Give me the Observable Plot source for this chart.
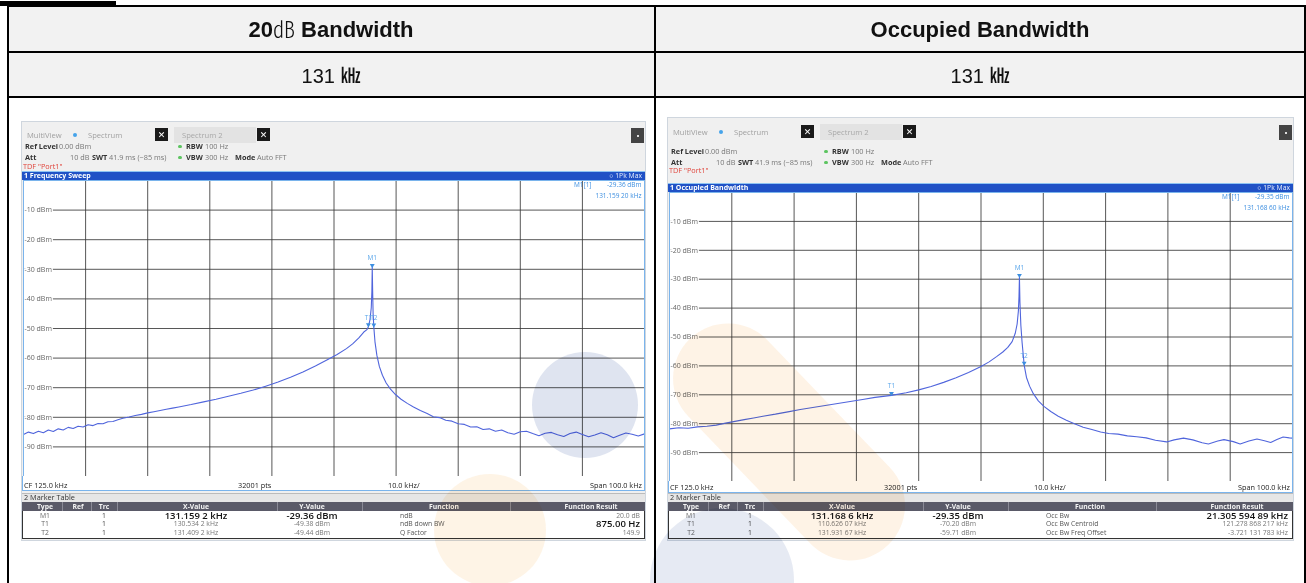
<!DOCTYPE html>
<html><head><meta charset="utf-8">
<script src="https://cdn.jsdelivr.net/npm/d3@7"></script>
<script src="https://cdn.jsdelivr.net/npm/@observablehq/plot@0.6"></script>
<style>
html,body{margin:0;padding:0;background:#fff;}
body{width:1306px;height:583px;overflow:hidden;position:relative;font-family:"Open Sans","Noto Sans",sans-serif;}
.t{position:absolute;white-space:nowrap;}
svg{display:block;}
</style></head><body>
<script>
// ---------------- data ----------------
const headerTitles = ["20", "Occupied Bandwidth"];
const headerValues = ["131 ㎑", "131 ㎑"];
const xTicks = [75, 85, 95, 105, 115, 125, 135, 145, 155, 165, 175];
const yGrid = [0, -10, -20, -30, -40, -50, -60, -70, -80, -90, -100];
const yTicks = [-10, -20, -30, -40, -50, -60, -70, -80, -90];

const leftFreq = [75,75.8,76.6,77.4,78.2,79,79.8,80.6,81.4,82.2,83,83.8,84.6,85.4,86.2,87,87.8,88.6,89.4,90.2,91,92,93,94,95,96,97,98,99,100,102,104,106,108,110,112,114,116,118,120,122,124,125.5,127,128,129,129.8,130.3,130.534,130.8,131.0,131.1,131.159,131.22,131.3,131.409,131.6,131.9,132.3,132.8,133.4,134.1,134.9,135.8,136.8,137.8,138.9,140,141,142,143,144,145,146,147,148,149,150,151,152,153,154,155,156,157,158,159,160,161,162,163,164,165,166,167,168,169,170,171,172,173,174,175];
const leftLevel = [-85.8,-85.0,-85.5,-84.7,-85.2,-84.3,-84.8,-83.9,-84.3,-83.4,-83.8,-83.0,-83.3,-82.5,-82.8,-82.1,-82.2,-81.5,-81.4,-80.8,-80.3,-79.9,-79.4,-79.0,-78.5,-78.1,-77.7,-77.3,-76.9,-76.5,-75.7,-74.8,-73.9,-72.9,-71.9,-70.8,-69.5,-68.1,-66.5,-64.7,-62.7,-60.5,-58.8,-56.8,-55.2,-53.2,-51.2,-50.4,-49.38,-47.0,-43.0,-37.5,-29.36,-37.0,-45.0,-49.44,-54.5,-59.0,-62.8,-65.8,-68.4,-70.5,-72.3,-73.9,-75.3,-76.5,-77.7,-78.7,-79.8,-80.1,-81.0,-81.3,-82.2,-82.4,-83.3,-83.2,-84.1,-83.9,-84.7,-84.3,-85.2,-85.7,-84.9,-84.7,-85.5,-86.2,-85.4,-85.1,-85.9,-86.5,-85.5,-85.0,-85.8,-86.6,-86.0,-85.2,-85.9,-86.9,-86.1,-85.3,-85.7,-86.3,-85.6];

const rightFreq = [75,76.5,78,79.5,81,82.5,84,85.5,87,88.5,90,92,94,96,98,100,102,104,106,108,110.626,113,115,117,119,121,123,125,126.3,127.5,128.5,129.3,130,130.5,130.8,131.0,131.1,131.169,131.25,131.4,131.6,131.931,132.3,132.8,133.4,134.2,135.1,136.2,137.4,138.7,140,141.4,142.8,144.2,145.5,147,148.5,150,151.5,153,154.8,156,157.5,159,160.5,161.5,163,164,165.5,166.6,168,169.3,170.5,171.5,172.5,173.5,174.5,175];
const rightLevel = [-81.8,-81.4,-81.6,-81.1,-80.9,-80.5,-79.8,-79.2,-78.6,-78.0,-77.4,-76.7,-75.9,-75.1,-74.4,-73.7,-73.0,-72.3,-71.6,-70.9,-70.2,-69.3,-68.3,-67.1,-65.7,-64.1,-62.3,-60.2,-58.6,-56.8,-55.2,-53.6,-51.6,-48.7,-45.5,-41.0,-36.0,-29.35,-38.0,-46.0,-52.0,-59.71,-64.0,-67.0,-69.6,-72.1,-74.0,-75.8,-77.4,-78.8,-80.0,-81.2,-82.0,-82.9,-83.4,-83.6,-84.2,-84.5,-84.9,-85.7,-86.3,-85.6,-85.0,-85.6,-86.6,-87.0,-86.0,-85.5,-86.2,-87.0,-86.0,-85.3,-85.9,-86.5,-85.5,-84.6,-84.9,-85.0];

const leftMarkerNames = ["M1", "T1", "T2"];
const leftMarkerFreq = [131.159, 130.534, 131.409];
const leftMarkerLevel = [-29.36, -49.38, -49.44];
const rightMarkerNames = ["M1", "T1", "T2"];
const rightMarkerFreq = [131.169, 110.626, 131.931];
const rightMarkerLevel = [-29.35, -70.20, -59.71];

const leftReadout = ["M1[1]", "-29.36 dBm", "131.159 20 kHz"];
const rightReadout = ["M1[1]", "-29.35 dBm", "131.168 60 kHz"];

const tableColumns = ["Type", "Ref", "Trc", "X-Value", "Y-Value", "Function", "Function Result"];
const markerTypes = ["M1", "T1", "T2"];
const markerTrc = ["1", "1", "1"];
const leftXValues = ["131.159 2 kHz", "130.534 2 kHz", "131.409 2 kHz"];
const leftYValues = ["-29.36 dBm", "-49.38 dBm", "-49.44 dBm"];
const leftFunctions = ["ndB", "ndB down BW", "Q Factor"];
const leftResults = ["20.0 dB", "875.00 Hz", "149.9"];
const rightXValues = ["131.168 6 kHz", "110.626 07 kHz", "131.931 67 kHz"];
const rightYValues = ["-29.35 dBm", "-70.20 dBm", "-59.71 dBm"];
const rightFunctions = ["Occ Bw", "Occ Bw Centroid", "Occ Bw Freq Offset"];
const rightResults = ["21.305 594 89 kHz", "121.278 868 217 kHz", "-3.721 131 783 kHz"];
const leftResultBold = [false, true, false];
const rightResultBold = [true, false, false];

// ---------------- helpers ----------------
const root = document.body;
function box(l, t, w, h, style = {}, parent = root) {
  const d = document.createElement("div");
  d.style.position = "absolute";
  d.style.left = l + "px"; d.style.top = t + "px";
  if (w != null) d.style.width = w + "px";
  if (h != null) d.style.height = h + "px";
  Object.assign(d.style, style);
  parent.appendChild(d);
  return d;
}
function txt(x, y, html, size, style = {}, align = "left") {
  const d = document.createElement("div");
  d.className = "t";
  d.innerHTML = html;
  d.style.left = x + "px";
  d.style.top = (y - size * 0.7) + "px";
  d.style.lineHeight = (size * 1.4) + "px";
  d.style.fontSize = size + "px";
  if (align === "center") d.style.transform = "translateX(-50%)";
  if (align === "right") d.style.transform = "translateX(-100%)";
  Object.assign(d.style, style);
  root.appendChild(d);
  return d;
}

// ---------------- table frame ----------------
box(0, 1, 116, 5, {background: "#000"});
box(9, 7, 645, 44, {background: "#f2f2f2"});
box(656, 7, 648, 44, {background: "#f2f2f2"});
box(9, 53, 645, 43, {background: "#f2f2f2"});
box(656, 53, 648, 43, {background: "#f2f2f2"});
box(7, 5, 1299, 2, {background: "#000"});
box(7, 51, 1299, 2, {background: "#000"});
box(7, 96, 1299, 2, {background: "#000"});
box(7, 5, 2, 578, {background: "#000"});
box(654, 5, 2, 578, {background: "#000"});
box(1304, 5, 2, 578, {background: "#000"});

const hdrFont = {fontFamily: "'Liberation Sans', Arial, sans-serif", color: "#111"};
txt(331, 27, `<b>${headerTitles[0]}</b><span style="font-family:'Noto Sans CJK KR';font-weight:300">㏈</span><b> Bandwidth</b>`, 22, hdrFont, "center");
txt(980, 30, `<b>${headerTitles[1]}</b>`, 22, hdrFont, "center");
txt(331, 75, headerValues[0].replace("㎑", `<span style="font-family:'Noto Sans CJK KR';font-weight:500">㎑</span>`), 20, hdrFont, "center");
txt(980, 75, headerValues[1].replace("㎑", `<span style="font-family:'Noto Sans CJK KR';font-weight:500">㎑</span>`), 20, hdrFont, "center");

// ---------------- spectrum plot ----------------
function spectrum(freq, level, mNames, mFreq, mLevel, readout, w, h) {
  const trace = freq.map((f, i) => ({f, v: level[i]}));
  const marks = mNames.map((n, i) => ({n, f: mFreq[i], v: mLevel[i]}));
  const blue = "#3d8fe0";
  return Plot.plot({
    width: w, height: h,
    marginTop: 0, marginRight: 0, marginBottom: 0, marginLeft: 0,
    x: {domain: [75, 175], axis: null},
    y: {domain: [-100, 0], axis: null},
    style: {background: "#fff", fontFamily: "'Open Sans', sans-serif", overflow: "visible"},
    marks: [
      Plot.ruleX(xTicks, {stroke: "#3a3a3a", strokeWidth: 1, strokeOpacity: 0.85}),
      Plot.ruleY(yGrid, {stroke: "#3a3a3a", strokeWidth: 1, strokeOpacity: 0.85}),
      Plot.text(yTicks, {x: () => 75, y: d => d, text: d => `${d} dBm`, textAnchor: "start", dx: 1, fill: "#666", stroke: "#fff", strokeWidth: 3, fontSize: 7}),
      Plot.line(trace, {x: "f", y: "v", stroke: "#5065dc", strokeWidth: 1.1}),
      Plot.dot(marks, {x: "f", y: "v", symbol: "triangle", rotate: 180, r: 1.8, fill: blue, stroke: "none", dy: -2}),
      Plot.text(marks, {x: "f", y: "v", text: "n", dy: -9, fill: "#5aa6ea", fontSize: 6.5}),
      Plot.text([readout[0]], {frameAnchor: "top-right", text: d => d, dx: -53, dy: 2, lineAnchor: "top", textAnchor: "end", fill: blue, fontSize: 6.5}),
      Plot.text([readout[1]], {frameAnchor: "top-right", text: d => d, dx: -3, dy: 2, lineAnchor: "top", textAnchor: "end", fill: blue, fontSize: 6.5}),
      Plot.text([readout[2]], {frameAnchor: "top-right", text: d => d, dx: -3, dy: 13, lineAnchor: "top", textAnchor: "end", fill: blue, fontSize: 6.5}),
      Plot.frame({stroke: "#7ab4ec"})
    ]
  });
}

// ---------------- instrument screenshot ----------------
function screen(c) {
  const x = c.x, w = c.w;
  box(x, c.top, w, c.bottom - c.top, {background: "#f0f0f0", outline: "1px solid #cfd6de"});
  const fs = 7.3;
  txt(x + 5, c.tabsY, "MultiView", 7.6, {color: "#a0a0a0"});
  box(x + 51, c.tabsY - 2, 4, 4, {background: "#45a3ea", borderRadius: "2px"});
  txt(x + 66, c.tabsY, "Spectrum", 7.6, {color: "#a0a0a0"});
  box(x + 152, c.tabsY - 8, 82, 16, {background: "#e3e3e3"});
  txt(x + 160, c.tabsY, "Spectrum 2", 7.6, {color: "#a8a8a8"});
  [x + 133, x + 235].forEach(bx => {
    box(bx, c.tabsY - 7, 13, 13, {background: "#1a1a1a"});
    txt(bx + 6.5, c.tabsY, "✕", 9, {color: "#fff", fontWeight: "bold", fontFamily: "'DejaVu Sans'"}, "center");
  });
  box(x + w - 14, c.tabsY - 7, 13, 15, {background: "#444"});
  box(x + w - 8.5, c.tabsY - 0.5, 2, 2, {background: "#ddd"});
  const dark = {color: "#333", fontWeight: "bold"}, grey = {color: "#777"};
  txt(x + 3, c.refY, "Ref Level", fs, dark);
  txt(x + 37, c.refY, "0.00 dBm", fs, grey);
  box(x + 156, c.refY - 1.5, 4, 3, {background: "#5cc460", borderRadius: "2px"});
  txt(x + 164, c.refY, "RBW", fs, dark);
  txt(x + 183, c.refY, "100 Hz", fs, grey);
  txt(x + 3, c.attY, "Att", fs, dark);
  txt(x + 48, c.attY, "10 dB", fs, grey);
  txt(x + 70, c.attY, "SWT", fs, dark);
  txt(x + 87, c.attY, "41.9 ms (~85 ms)", fs, grey);
  box(x + 156, c.attY - 1.5, 4, 3, {background: "#5cc460", borderRadius: "2px"});
  txt(x + 164, c.attY, "VBW", fs, dark);
  txt(x + 183, c.attY, "300 Hz", fs, grey);
  txt(x + 213, c.attY, "Mode", fs, dark);
  txt(x + 235, c.attY, "Auto FFT", fs, grey);
  txt(x + 1, c.tdfY, "TDF \"Port1\"", fs, {color: "#e0433a"});
  box(x, c.barTop, w, c.barH, {background: "#2051c6", borderTop: "1px solid #8ec3f2", boxSizing: "border-box"});
  txt(x + 2, c.barTop + c.barH / 2, c.title, 7, {color: "#fff", fontWeight: "bold"});
  txt(x + w - 3, c.barTop + c.barH / 2, "○ 1Pk Max", 6.8, {color: "#e8eefc"}, "right");
  const pw = w - 2, ph = c.plotBottom - c.plotTop;
  const holder = box(x + 1, c.plotTop, pw, ph, {});
  holder.appendChild(spectrum(c.freq, c.level, c.mNames, c.mFreq, c.mLevel, c.readout, pw, ph));
  box(x, c.plotBottom, w, c.cfY + 6 - c.plotBottom, {background: "#fff", borderLeft: "1px solid #7ab4ec", borderRight: "1px solid #7ab4ec", borderBottom: "1px solid #7ab4ec", boxSizing: "border-box"});
  txt(x + 2, c.cfY, "CF 125.0 kHz", fs, {color: "#222"});
  txt(x + 216, c.cfY, "32001 pts", fs, {color: "#222"});
  txt(x + 366, c.cfY, "10.0 kHz/", fs, {color: "#222"});
  txt(x + w - 3, c.cfY, "Span 100.0 kHz", fs, {color: "#222"}, "right");
  const m = c.mtTop;
  box(x, m, w, 9, {background: "#e6e6e6", borderTop: "1px solid #bbb", boxSizing: "border-box"});
  txt(x + 2, m + 4.5, "2 Marker Table", fs, {color: "#333"});
  box(x, m + 9, w, 37, {background: "#fff", border: "1px solid #333", boxSizing: "border-box"});
  box(x, m + 9, w, 9, {background: "#5a5a68"});
  const colC = [23, 56, 82, 174, 290, 422, 569];
  const seps = [40, 69, 95, 255, 340, 488];
  seps.forEach(s => box(x + s, m + 9, 1, 9, {background: "#8a8a96"}));
  tableColumns.forEach((t, i) => txt(x + colC[i], m + 13.5, t, 6.8, {color: "#f4f4f4", fontWeight: "bold"}, "center"));
  for (let r = 0; r < 3; r++) {
    const yy = m + 22.5 + r * 8.6;
    const big = r === 0;
    const vs = big ? 9.5 : 6.8;
    const vcol = big ? "#111" : "#777";
    txt(x + colC[0], yy, markerTypes[r], 6.8, {color: "#666"}, "center");
    txt(x + colC[2], yy, markerTrc[r], 6.8, {color: "#444"}, "center");
    txt(x + colC[3], yy, c.xv[r], vs, {color: vcol, fontWeight: big ? "600" : "normal"}, "center");
    txt(x + colC[4], yy, c.yv[r], vs, {color: vcol, fontWeight: big ? "600" : "normal"}, "center");
    txt(x + 378, yy, c.fn[r], 6.8, {color: "#555"});
    const b = c.rb[r];
    txt(x + w - 5, yy, c.res[r], b ? 9.5 : 6.8, {color: b ? "#111" : "#777", fontWeight: b ? "600" : "normal"}, "right");
  }
}

screen({x: 22, w: 623, top: 122, tabsY: 135, refY: 146, attY: 157, tdfY: 166, barTop: 171, barH: 9,
  plotTop: 180, plotBottom: 476, cfY: 485, mtTop: 493, bottom: 540, title: "1 Frequency Sweep",
  freq: leftFreq, level: leftLevel, mNames: leftMarkerNames, mFreq: leftMarkerFreq, mLevel: leftMarkerLevel, readout: leftReadout,
  xv: leftXValues, yv: leftYValues, fn: leftFunctions, res: leftResults, rb: leftResultBold});
screen({x: 668, w: 625, top: 118, tabsY: 132, refY: 151, attY: 162, tdfY: 170, barTop: 183, barH: 9,
  plotTop: 192, plotBottom: 481, cfY: 487, mtTop: 493, bottom: 540, title: "1 Occupied Bandwidth",
  freq: rightFreq, level: rightLevel, mNames: rightMarkerNames, mFreq: rightMarkerFreq, mLevel: rightMarkerLevel, readout: rightReadout,
  xv: rightXValues, yv: rightYValues, fn: rightFunctions, res: rightResults, rb: rightResultBold});

// ---------------- faint watermark ----------------
const wm = {pointerEvents: "none", mixBlendMode: "multiply"};
[[585, 405, 53, "rgba(140,158,200,0.28)"], [490, 530, 56, "rgba(250,205,140,0.22)"],
 [722, 580, 72, "rgba(140,158,200,0.22)"]].forEach(([cx, cy, r, col]) => {
  box(cx - r, cy - r, 2 * r, 2 * r, {...wm, background: col, borderRadius: "50%"});
});
// capsule-shaped peach band on the right panel
(() => {
  const x1 = 728, y1 = 378, x2 = 850, y2 = 505, r = 55;
  const len = Math.hypot(x2 - x1, y2 - y1) + 2 * r;
  const ang = Math.atan2(y2 - y1, x2 - x1) * 180 / Math.PI;
  const cx = (x1 + x2) / 2, cy = (y1 + y2) / 2;
  box(cx - len / 2, cy - r, len, 2 * r, {...wm, background: "rgba(250,200,140,0.22)", borderRadius: r + "px", transform: `rotate(${ang}deg)`});
})();
</script>
</body></html>
